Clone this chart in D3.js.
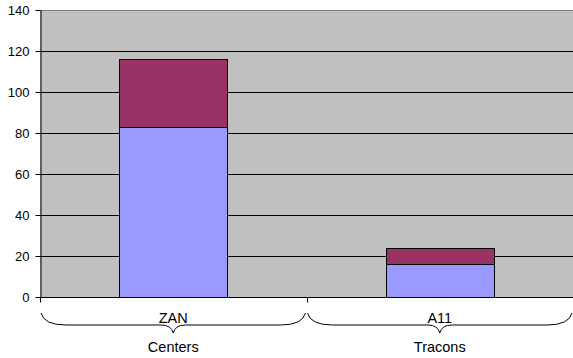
<!DOCTYPE html>
<html>
<head>
<meta charset="utf-8">
<script src="https://cdn.jsdelivr.net/npm/d3@7"></script>
<style>
  body { margin: 0; background: #fff; }
  text { font-family: "Liberation Sans", Arial, sans-serif; fill: #000; }
</style>
</head>
<body>
<div id="chart"></div>
<script>
// chart values
var items = ["ZAN", "A11"];
var groups = ["Centers", "Tracons"];
var lower = [83, 16];
var upper = [33, 8];
var yTicks = [0, 20, 40, 60, 80, 100, 120, 140];

var width = 573, height = 358;
var margin = { top: 10, right: 0, bottom: 61, left: 40 };
var plotW = width - margin.left - margin.right;
var plotH = height - margin.top - margin.bottom;

var svg = d3.select("#chart").append("svg")
    .attr("width", width)
    .attr("height", height);

var g = svg.append("g")
    .attr("transform", "translate(" + margin.left + "," + margin.top + ")");

var x = d3.scaleBand().domain(items).range([0, plotW]).paddingInner(0.595).paddingOuter(0.2975);
var xOuter = d3.scaleBand().domain(items).range([0, plotW]);
var y = d3.scaleLinear().domain([0, 140]).range([plotH, 0]);

// background
g.append("rect")
    .attr("width", plotW)
    .attr("height", plotH)
    .attr("fill", "#c0c0c0");

// gridlines
g.selectAll(".grid")
    .data(yTicks.slice(1))
    .enter()
    .append("line")
    .attr("x1", 0).attr("x2", plotW)
    .attr("y1", function (d) { return Math.round(y(d)) + 0.5; })
    .attr("y2", function (d) { return Math.round(y(d)) + 0.5; })
    .attr("stroke", function (d) { return d === 140 ? "#808080" : "#000"; })
    .attr("stroke-width", 1);

// stacked bars
var stackData = items.map(function (d, i) { return { item: d, lower: lower[i], upper: upper[i] }; });
var stack = d3.stack().keys(["lower", "upper"])(stackData);
var colours = { lower: "#9999ff", upper: "#993366" };

g.selectAll(".series")
    .data(stack)
    .enter()
    .append("g")
    .attr("fill", function (d) { return colours[d.key]; })
    .selectAll("rect")
    .data(function (d) { return d; })
    .enter()
    .append("rect")
    .attr("x", function (d) { return Math.round(x(d.data.item)) + 0.5; })
    .attr("width", Math.round(x.bandwidth()))
    .attr("y", function (d) { return Math.round(y(d[1])) + 0.5; })
    .attr("height", function (d) { return Math.round(y(d[0])) - Math.round(y(d[1])); })
    .attr("stroke", "#000")
    .attr("stroke-width", 1);

// y axis
var yAxis = g.append("g")
    .attr("transform", "translate(0.5,0)")
    .call(d3.axisLeft(y).tickValues(yTicks).tickSize(5).tickPadding(6).tickSizeOuter(0));
yAxis.selectAll("line").attr("stroke", "#000");
yAxis.select(".domain").attr("stroke", "#000");
yAxis.selectAll("text")
    .style("font-size", "13px")
    .attr("font-family", "Liberation Sans, Arial, sans-serif");
yAxis.selectAll(".tick").attr("transform", function (d) {
    return "translate(0," + (Math.round(y(d)) + 0.5) + ")";
});

// x axis line and ticks
var bottom = Math.round(plotH) + 0.5;
g.append("line")
    .attr("x1", 0).attr("x2", plotW)
    .attr("y1", bottom).attr("y2", bottom)
    .attr("stroke", "#000");

var edges = [0].concat(items.map(function (d) { return xOuter(d) + xOuter.bandwidth(); }));
g.selectAll(".xtick")
    .data(edges)
    .enter()
    .append("line")
    .attr("x1", function (d) { return Math.round(d) + 0.5; })
    .attr("x2", function (d) { return Math.round(d) + 0.5; })
    .attr("y1", bottom).attr("y2", bottom + 5)
    .attr("stroke", "#000");

// item labels
g.selectAll(".xlabel")
    .data(items)
    .enter()
    .append("text")
    .attr("x", function (d) { return xOuter(d) + xOuter.bandwidth() / 2; })
    .attr("y", plotH + 26)
    .attr("text-anchor", "middle")
    .style("font-size", "14.5px")
    .text(function (d) { return d; });

// braces
function brace(x0, x1, top) {
    var mid = (x0 + x1) / 2;
    var yl = top + 12;
    return "M" + x0 + "," + top +
        " Q" + (x0 + 3) + "," + yl + " " + (x0 + 25) + "," + yl +
        " L" + (mid - 12) + "," + yl +
        " Q" + (mid - 2) + "," + yl + " " + mid + "," + (yl + 8) +
        " Q" + (mid + 2) + "," + yl + " " + (mid + 12) + "," + yl +
        " L" + (x1 - 25) + "," + yl +
        " Q" + (x1 - 3) + "," + yl + " " + x1 + "," + top;
}

g.selectAll(".brace")
    .data(items)
    .enter()
    .append("path")
    .attr("d", function (d) {
        return brace(xOuter(d) + 1, xOuter(d) + xOuter.bandwidth() - 1, plotH + 16);
    })
    .attr("fill", "none")
    .attr("stroke", "#000")
    .attr("stroke-width", 1);

// group labels
g.selectAll(".glabel")
    .data(groups)
    .enter()
    .append("text")
    .attr("x", function (d, i) { return xOuter(items[i]) + xOuter.bandwidth() / 2; })
    .attr("y", plotH + 55)
    .attr("text-anchor", "middle")
    .style("font-size", "14.5px")
    .text(function (d) { return d; });
</script>
</body>
</html>
